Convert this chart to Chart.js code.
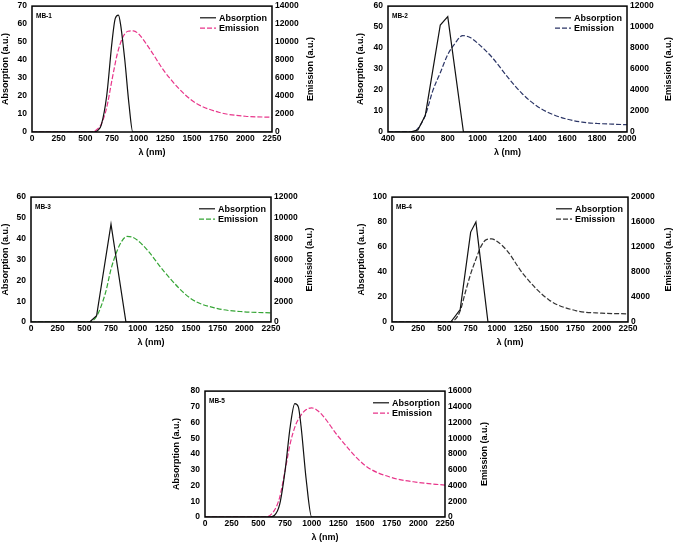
<!DOCTYPE html>
<html>
<head>
<meta charset="utf-8">
<script src="https://cdn.jsdelivr.net/npm/chart.js@4/dist/chart.umd.min.js"></script>
<style>
  html, body { margin: 0; padding: 0; background: #fff; }
  body { width: 673px; height: 543px; position: relative; overflow: hidden; }
  canvas { position: absolute; }
</style>
</head>
<body>
<canvas id="mb1"></canvas>
<canvas id="mb2"></canvas>
<canvas id="mb3"></canvas>
<canvas id="mb4"></canvas>
<canvas id="mb5"></canvas>
<script>
// wavelengths (nm) and intensities
const mb1AbsX = [0, 580, 620, 650, 700, 750, 780, 810, 830, 870, 910, 945, 2250];
const mb1AbsY = [0, 0, 1, 4, 20, 50, 63, 65, 60, 40, 15, 0, 0];
const mb1EmX = [0, 560, 600, 650, 700, 750, 800, 850, 900, 950, 1000, 1100, 1250, 1500, 1750, 2000, 2250];
const mb1EmY = [0, 0, 200, 900, 2700, 5800, 8700, 10500, 11200, 11250, 10900, 9300, 6600, 3500, 2200, 1750, 1640];

const mb2AbsX = [400, 550, 600, 650, 750, 800, 905, 2000];
const mb2AbsY = [0, 0, 1, 8, 51, 55, 0, 0];
const mb2EmX = [400, 570, 600, 650, 700, 750, 800, 850, 900, 950, 1000, 1100, 1200, 1300, 1400, 1500, 1600, 1700, 1800, 1900, 2000];
const mb2EmY = [0, 0, 340, 1600, 3940, 5650, 7375, 8470, 9190, 9000, 8470, 7060, 5250, 3625, 2440, 1690, 1220, 940, 810, 750, 690];

const mb3AbsX = [0, 550, 615, 750, 890, 2250];
const mb3AbsY = [0, 0, 3, 47, 0, 0];
const mb3EmX = [0, 540, 616, 700, 750, 800, 850, 900, 950, 1000, 1100, 1250, 1500, 1750, 2000, 2250];
const mb3EmY = [0, 0, 570, 2870, 5070, 6650, 7750, 8220, 8160, 7840, 6800, 4820, 2240, 1290, 976, 880];

const mb4AbsX = [0, 560, 650, 750, 800, 915, 2250];
const mb4AbsY = [0, 0, 10, 72, 80, 0, 0];
const mb4EmX = [0, 540, 600, 650, 700, 750, 800, 850, 900, 950, 1000, 1100, 1250, 1500, 1750, 2000, 2250];
const mb4EmY = [0, 0, 370, 1780, 4800, 7700, 10050, 12150, 13200, 13300, 12930, 11360, 7700, 3500, 1830, 1410, 1310];

const mb5AbsX = [0, 600, 650, 700, 750, 800, 842, 875, 900, 950, 1000, 2250];
const mb5AbsY = [0, 0, 1, 8, 29, 58, 72, 70, 58, 23, 0, 0];
const mb5EmX = [0, 570, 650, 700, 750, 800, 850, 900, 950, 1000, 1050, 1100, 1250, 1500, 1750, 2000, 2250];
const mb5EmY = [0, 0, 835, 2500, 5850, 9400, 11700, 12950, 13660, 13870, 13580, 12950, 10230, 6560, 5010, 4390, 4050];

const FONT = 'Liberation Sans, Arial, sans-serif';

function pts(xs, ys) {
  return xs.map((x, i) => ({ x: x, y: ys[i] }));
}

// frame, panel name, legend and the right-hand axis title
const framePlugin = {
  id: 'frame',
  afterDraw(chart, args, opts) {
    const ctx = chart.ctx;
    const a = chart.chartArea;
    ctx.save();
    ctx.strokeStyle = '#000';
    ctx.lineWidth = 1.5;
    ctx.strokeRect(a.left, a.top, a.right - a.left, a.bottom - a.top);

    ctx.fillStyle = '#000';
    ctx.font = 'bold 6.5px ' + FONT;
    ctx.textBaseline = 'middle';
    ctx.fillText(opts.name, a.left + 4, a.top + 10);

    ctx.font = 'bold 9px ' + FONT;
    let sets = chart.data.datasets;
    let w = Math.max(...sets.map(d => ctx.measureText(d.label).width));
    let tx = a.right - 5 - w;
    sets.forEach((d, i) => {
      let y = a.top + 11.7 + i * 10.3;
      ctx.beginPath();
      ctx.strokeStyle = d.borderColor;
      ctx.lineWidth = 1.2;
      ctx.setLineDash(d.borderDash || []);
      ctx.moveTo(tx - 19, y);
      ctx.lineTo(tx - 3, y);
      ctx.stroke();
      ctx.setLineDash([]);
      ctx.fillStyle = '#000';
      ctx.fillText(d.label, tx, y + 0.5);
    });

    // right axis title reads bottom to top, like the left one
    let s = chart.scales.y1;
    ctx.translate(s.right - 5.4, (a.top + a.bottom) / 2);
    ctx.rotate(-Math.PI / 2);
    ctx.textAlign = 'center';
    ctx.fillText('Emission (a.u.)', 0, 0);
    ctx.restore();
  }
};

function makeChart(id, cfg) {
  const el = document.getElementById(id);
  const plotW = cfg.right - cfg.left;
  const plotH = cfg.bottom - cfg.top;
  el.width = cfg.leftW + plotW + cfg.rightW;
  el.height = 8 + plotH + 30;
  el.style.left = (cfg.left - cfg.leftW) + 'px';
  el.style.top = (cfg.top - 8) + 'px';

  const tickFont = { family: FONT, size: 8.5, weight: 'bold' };
  const titleFont = { family: FONT, size: 9, weight: 'bold' };
  const plain = v => String(v);

  new Chart(el, {
    type: 'line',
    data: {
      datasets: [{
        label: 'Absorption',
        data: pts(cfg.absX, cfg.absY),
        yAxisID: 'y',
        borderColor: '#111',
        borderWidth: 1.2,
        pointRadius: 0,
        tension: cfg.absSmooth ? 0.4 : 0,
        cubicInterpolationMode: cfg.absSmooth ? 'monotone' : 'default'
      }, {
        label: 'Emission',
        data: pts(cfg.emX, cfg.emY),
        yAxisID: 'y1',
        borderColor: cfg.emColor,
        borderWidth: 1.2,
        borderDash: [5, 2],
        pointRadius: 0,
        cubicInterpolationMode: 'monotone'
      }]
    },
    options: {
      responsive: false,
      animation: false,
      devicePixelRatio: 1,
      layout: { padding: { top: 8, left: 0, right: 0, bottom: 0 } },
      plugins: {
        legend: { display: false },
        tooltip: { enabled: false },
        frame: { name: cfg.name }
      },
      scales: {
        x: {
          type: 'linear',
          min: cfg.xMin, max: cfg.xMax,
          grid: { display: false, drawTicks: false },
          border: { display: false },
          ticks: { stepSize: cfg.xStep, autoSkip: false, maxRotation: 0, padding: 2, color: '#000', font: tickFont, callback: plain },
          title: { display: true, text: 'λ (nm)', color: '#000', font: titleFont, padding: { top: 0, bottom: 4.5 } },
          afterFit: s => { s.height = 30; }
        },
        y: {
          position: 'left',
          min: 0, max: cfg.yMax,
          grid: { display: false, drawTicks: false },
          border: { display: false },
          ticks: { stepSize: cfg.yStep, padding: 5, color: '#000', font: tickFont, callback: plain },
          title: { display: true, text: 'Absorption (a.u.)', color: '#000', font: titleFont, padding: { top: 0, bottom: 0 } },
          afterFit: s => { s.width = cfg.leftW; }
        },
        y1: {
          position: 'right',
          min: 0, max: cfg.y1Max,
          grid: { display: false, drawTicks: false },
          border: { display: false },
          ticks: { stepSize: cfg.y1Step, padding: 3, color: '#000', font: tickFont, callback: plain },
          title: { display: false },
          afterFit: s => { s.width = cfg.rightW; }
        }
      }
    },
    plugins: [framePlugin]
  });
}

makeChart('mb1', {
  name: 'MB-1', left: 32, right: 272, top: 4, bottom: 132, leftW: 32, rightW: 44,
  xMin: 0, xMax: 2250, xStep: 250, yMax: 70, yStep: 10, y1Max: 14000, y1Step: 2000,
  absX: mb1AbsX, absY: mb1AbsY, absSmooth: true, emX: mb1EmX, emY: mb1EmY, emColor: '#e8358a'
});
makeChart('mb2', {
  name: 'MB-2', left: 388, right: 627, top: 4, bottom: 132, leftW: 33, rightW: 47,
  xMin: 400, xMax: 2000, xStep: 200, yMax: 60, yStep: 10, y1Max: 12000, y1Step: 2000,
  absX: mb2AbsX, absY: mb2AbsY, absSmooth: false, emX: mb2EmX, emY: mb2EmY, emColor: '#2b3566'
});
makeChart('mb3', {
  name: 'MB-3', left: 31, right: 271, top: 195, bottom: 322, leftW: 31, rightW: 44,
  xMin: 0, xMax: 2250, xStep: 250, yMax: 60, yStep: 10, y1Max: 12000, y1Step: 2000,
  absX: mb3AbsX, absY: mb3AbsY, absSmooth: false, emX: mb3EmX, emY: mb3EmY, emColor: '#35a535'
});
makeChart('mb4', {
  name: 'MB-4', left: 392, right: 628, top: 195, bottom: 322, leftW: 36, rightW: 46,
  xMin: 0, xMax: 2250, xStep: 250, yMax: 100, yStep: 20, y1Max: 20000, y1Step: 4000,
  absX: mb4AbsX, absY: mb4AbsY, absSmooth: false, emX: mb4EmX, emY: mb4EmY, emColor: '#333333'
});
makeChart('mb5', {
  name: 'MB-5', left: 205, right: 445, top: 389, bottom: 517, leftW: 34, rightW: 45,
  xMin: 0, xMax: 2250, xStep: 250, yMax: 80, yStep: 10, y1Max: 16000, y1Step: 2000,
  absX: mb5AbsX, absY: mb5AbsY, absSmooth: true, emX: mb5EmX, emY: mb5EmY, emColor: '#e8358a'
});
</script>
</body>
</html>
